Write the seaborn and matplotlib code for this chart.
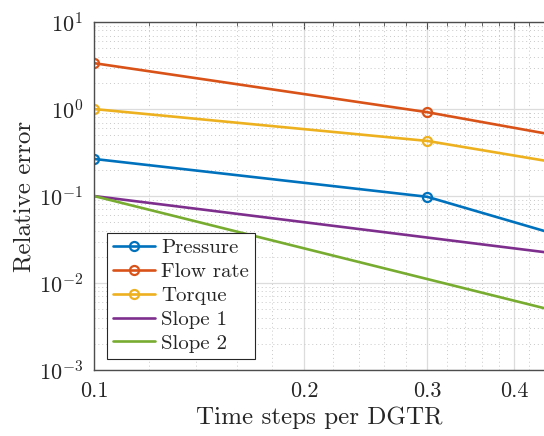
import numpy as np
import pandas as pd
import seaborn as sns
import matplotlib.pyplot as plt
from matplotlib.ticker import LogLocator, FixedLocator, FixedFormatter, NullFormatter

# data (third point lies past the visible edge)
steps = [0.1, 0.3, 0.5]
pressure = [0.267, 0.098, 0.0296]
flow_rate = [3.37, 0.92, 0.44]
torque = [1.0, 0.43, 0.216]
slope_x = [0.1, 0.5]
slope1 = [0.1, 0.02]
slope2 = [0.1, 0.004]

sns.set_style('white')
plt.rcParams['font.family'] = 'serif'
plt.rcParams['font.serif'] = ['cmr10', 'DejaVu Serif']
plt.rcParams['mathtext.fontset'] = 'cm'
plt.rcParams['axes.formatter.use_mathtext'] = True
plt.rcParams['axes.unicode_minus'] = False

colours = ['#0072BD', '#D95319', '#EDB120', '#7E2F8E', '#77AC30']

fig = plt.figure(figsize=(5.44, 4.36), dpi=100)
ax = fig.add_axes([0.1728, 0.1514, 0.8272, 0.798])

series = [('Pressure', steps, pressure, True),
          ('Flow rate', steps, flow_rate, True),
          ('Torque', steps, torque, True),
          ('Slope 1', slope_x, slope1, False),
          ('Slope 2', slope_x, slope2, False)]

for (name, xs, ys, mk), c in zip(series, colours):
  df = pd.DataFrame({'x': xs, 'y': ys})
  kw = dict(marker='o', markersize=6.5, markeredgewidth=1.6, markerfacecolor='none',
            markeredgecolor=c) if mk else {}
  sns.lineplot(data=df, x='x', y='y', ax=ax, color=c, linewidth=1.9, label=name, **kw)

ax.set_xscale('log')
ax.set_yscale('log')
ax.set_xlim(0.1, 0.441)
ax.set_ylim(1e-3, 1e1)

ax.xaxis.set_major_locator(FixedLocator([0.1, 0.2, 0.3, 0.4]))
ax.xaxis.set_major_formatter(FixedFormatter(['0.1', '0.2', '0.3', '0.4']))
ax.xaxis.set_minor_locator(FixedLocator([0.12, 0.14, 0.16, 0.18, 0.22, 0.24, 0.26, 0.28,
                                         0.32, 0.34, 0.36, 0.38, 0.42]))
ax.xaxis.set_minor_formatter(NullFormatter())
ax.yaxis.set_major_locator(LogLocator(base=10, numticks=10))
ax.yaxis.set_minor_locator(LogLocator(base=10, subs=np.arange(2, 10), numticks=20))
ax.yaxis.set_minor_formatter(NullFormatter())

ax.grid(True, which='major', color='#dcdcdc', linewidth=0.9, linestyle='-')
ax.grid(True, which='minor', color='#c8c8c8', linewidth=0.7, linestyle=(0, (1, 3)))
ax.set_axisbelow(True)

spine_c = '#4d4d4d'
for s in ['left', 'bottom', 'top']:
  ax.spines[s].set_color(spine_c)
  ax.spines[s].set_linewidth(1.0)
ax.spines['right'].set_visible(False)

ax.tick_params(which='both', direction='in', top=True, right=False, color=spine_c,
               labelsize=16, pad=8)
ax.tick_params(which='major', length=5)
ax.tick_params(which='minor', length=3)

ax.set_xlabel('Time steps per DGTR', fontsize=18, labelpad=4)
ax.set_ylabel('Relative error', fontsize=18, labelpad=2)

leg = ax.legend(loc='lower left', bbox_to_anchor=(0.029, 0.032), fontsize=15,
                frameon=True, fancybox=False, edgecolor='#262626', framealpha=1,
                handlelength=2.0, handletextpad=0.3, borderpad=0.3, labelspacing=0.25,
                borderaxespad=0)
leg.get_frame().set_linewidth(0.8)

fig.savefig('out.png', dpi=100)
